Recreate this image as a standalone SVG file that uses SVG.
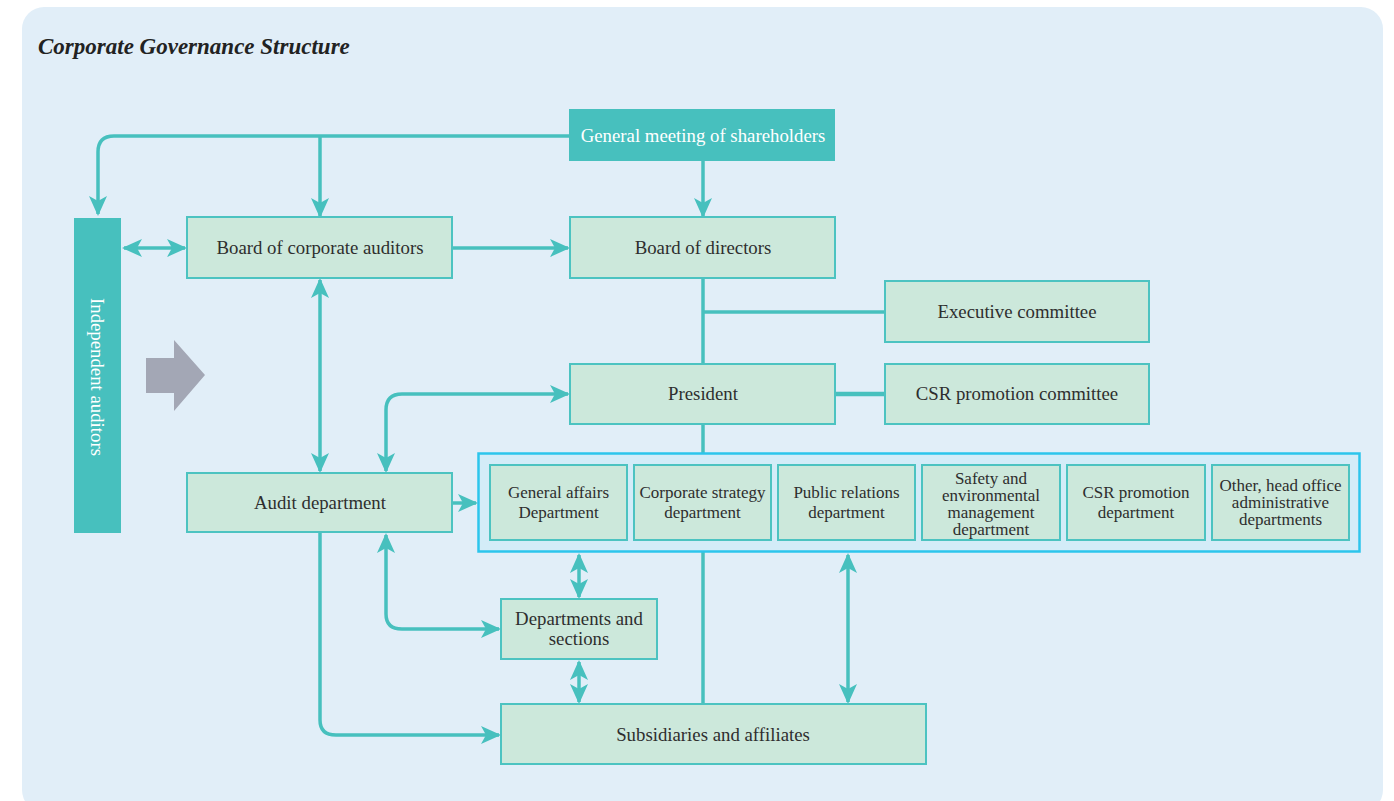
<svg xmlns="http://www.w3.org/2000/svg" width="1394" height="801" viewBox="0 0 1394 801">
<style>
.bg{fill:#e1eef8}
.node{fill:#cce8db;stroke:#4cc3c1;stroke-width:2}
.dark{fill:#47c0be}
.t{font-family:"Liberation Serif","Times New Roman",serif;font-size:18.8px;fill:#2e2e2e;text-anchor:middle}
.s{font-size:17px}
.w{fill:#ffffff}
.ln{fill:none;stroke:#47c0be;stroke-width:3.5;stroke-linejoin:round}
</style>
<defs>
<marker id="ah" viewBox="0 0 20 20" refX="18" refY="10" markerWidth="20" markerHeight="20" markerUnits="userSpaceOnUse" orient="auto-start-reverse">
<path d="M0,1 L20,10 L0,19 L5,10 z" fill="#47c0be"/>
</marker>
</defs>
<rect class="bg" x="22" y="7" width="1361" height="805" rx="22"/>
<text x="38" y="54" style="font-family:'Liberation Serif',serif;font-style:italic;font-weight:bold;font-size:23px;fill:#222">Corporate Governance Structure</text>

<g id="connectors">
<path class="ln" d="M569,136 H114 Q98,136 98,152 V214" marker-end="url(#ah)"/>
<path class="ln" d="M320,136 V216" marker-end="url(#ah)"/>
<path class="ln" d="M703,161 V216" marker-end="url(#ah)"/>
<path class="ln" d="M124,248 H185" marker-start="url(#ah)" marker-end="url(#ah)"/>
<path class="ln" d="M452,248 H568" marker-end="url(#ah)"/>
<path class="ln" d="M703,278 V364"/>
<path class="ln" d="M703,312 H885"/>
<path class="ln" d="M835,394 H885" style="stroke-width:4.5"/>
<path class="ln" d="M703,424 V453"/>
<path class="ln" d="M320,280 V471" marker-start="url(#ah)" marker-end="url(#ah)"/>
<path class="ln" d="M568,394 H402 Q386,394 386,410 V471" marker-start="url(#ah)" marker-end="url(#ah)"/>
<path class="ln" d="M452,503 H476" marker-end="url(#ah)"/>
<path class="ln" d="M320,532 V720 Q320,735 336,735 H499" marker-end="url(#ah)"/>
<path class="ln" d="M386,535 V614 Q386,629 402,629 H499" marker-start="url(#ah)" marker-end="url(#ah)"/>
<path class="ln" d="M579,555 V597" marker-start="url(#ah)" marker-end="url(#ah)"/>
<path class="ln" d="M579,662 V702" marker-start="url(#ah)" marker-end="url(#ah)"/>
<path class="ln" d="M703,552 V704"/>
<path class="ln" d="M848,555 V702" marker-start="url(#ah)" marker-end="url(#ah)"/>
</g>

<g id="shareholders">
<rect class="dark" x="569" y="109" width="266" height="52"/>
<text class="t w" x="703" y="142">General meeting of shareholders</text>
</g>
<g id="independent-auditors">
<rect class="dark" x="74" y="218" width="47" height="315"/>
<text class="t w" transform="translate(91,377) rotate(90)">Independent auditors</text>
</g>
<g id="grey-arrow">
<polygon points="146,358 174,358 174,340 205,375 174,411 174,393 146,393" fill="#a3a7b5"/>
</g>
<g id="board-auditors">
<rect class="node" x="187" y="217" width="265" height="61"/>
<text class="t" x="320" y="254">Board of corporate auditors</text>
</g>
<g id="board-directors">
<rect class="node" x="570" y="217" width="265" height="61"/>
<text class="t" x="703" y="254">Board of directors</text>
</g>
<g id="executive-committee">
<rect class="node" x="885" y="281" width="264" height="61"/>
<text class="t" x="1017" y="318">Executive committee</text>
</g>
<g id="president">
<rect class="node" x="570" y="364" width="265" height="60"/>
<text class="t" x="703" y="400">President</text>
</g>
<g id="csr-committee">
<rect class="node" x="885" y="364" width="264" height="60"/>
<text class="t" x="1017" y="400">CSR promotion committee</text>
</g>
<g id="audit-department">
<rect class="node" x="187" y="473" width="265" height="59"/>
<text class="t" x="320" y="509">Audit department</text>
</g>
<g id="head-office">
<rect x="478.5" y="453.5" width="881" height="98" fill="#d3ecf8" stroke="#2cc5ec" stroke-width="2.5"/>
<g id="general-affairs">
<rect class="node" x="490" y="465" width="137" height="75"/>
<text class="t s" x="558.5" y="498">General affairs</text>
<text class="t s" x="558.5" y="518">Department</text>
</g>
<g id="corporate-strategy">
<rect class="node" x="634" y="465" width="137" height="75"/>
<text class="t s" x="702.5" y="498">Corporate strategy</text>
<text class="t s" x="702.5" y="518">department</text>
</g>
<g id="public-relations">
<rect class="node" x="778" y="465" width="137" height="75"/>
<text class="t s" x="846.5" y="498">Public relations</text>
<text class="t s" x="846.5" y="518">department</text>
</g>
<g id="safety">
<rect class="node" x="922" y="465" width="138" height="75"/>
<text class="t s" x="991" y="484">Safety and</text>
<text class="t s" x="991" y="501">environmental</text>
<text class="t s" x="991" y="518">management</text>
<text class="t s" x="991" y="535">department</text>
</g>
<g id="csr-department">
<rect class="node" x="1067" y="465" width="138" height="75"/>
<text class="t s" x="1136" y="498">CSR promotion</text>
<text class="t s" x="1136" y="518">department</text>
</g>
<g id="other-departments">
<rect class="node" x="1212" y="465" width="137" height="75"/>
<text class="t s" x="1280.5" y="491">Other, head office</text>
<text class="t s" x="1280.5" y="508">administrative</text>
<text class="t s" x="1280.5" y="525">departments</text>
</g>
</g>
<g id="departments-sections">
<rect class="node" x="501" y="599" width="156" height="60"/>
<text class="t" x="579" y="625">Departments and</text>
<text class="t" x="579" y="645">sections</text>
</g>
<g id="subsidiaries">
<rect class="node" x="501" y="704" width="425" height="60"/>
<text class="t" x="713" y="741">Subsidiaries and affiliates</text>
</g>
</svg>
